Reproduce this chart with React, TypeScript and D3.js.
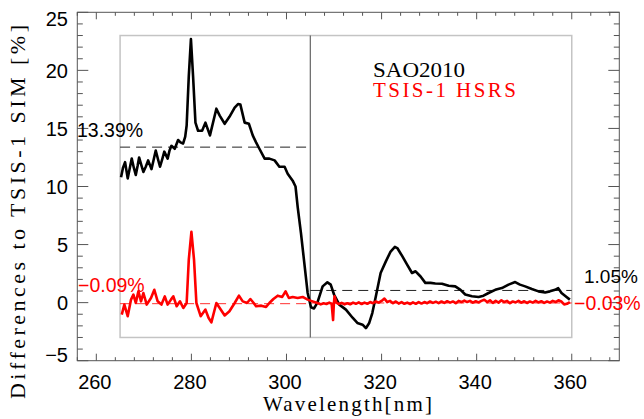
import React from 'react';
import * as d3 from 'd3';

const xMajorTicks = [260, 280, 300, 320, 340, 360];
const yMajorTicks = [-5, 0, 5, 10, 15, 20, 25];

const blackWl = [265.2, 265.6, 266.05, 266.6, 267.0, 267.45, 267.9, 268.3, 268.7, 269.0, 269.5, 269.9, 270.4, 270.9, 271.6, 272.0, 272.5, 273.0, 273.4, 273.9, 274.3, 275.0, 275.4, 275.8, 276.5, 277.2, 277.7, 278.25, 278.7, 279.0, 279.45, 279.9, 280.35, 280.85, 281.4, 282.25, 282.95, 283.9, 285.25, 285.95, 287.0, 288.0, 289.1, 289.8, 290.3, 291.2, 292.1, 292.9, 293.6, 294.3, 295.4, 296.4, 297.5, 298.5, 299.6, 300.25, 301.3, 301.9, 302.35, 303.05, 303.75, 304.45, 305.15, 305.8, 306.5, 307.6, 308.6, 309.3, 310.0, 311.1, 312.5, 313.9, 314.9, 316.0, 316.7, 317.4, 318.05, 318.8, 319.8, 320.9, 321.9, 322.8, 323.3, 324.35, 325.4, 326.4, 327.15, 328.2, 329.2, 330.3, 331.3, 332.7, 334.1, 335.5, 336.6, 337.6, 339.0, 340.4, 341.45, 342.5, 343.9, 345.3, 346.7, 348.1, 349.1, 350.2, 351.6, 353.0, 354.4, 355.4, 356.5, 357.15, 357.85, 358.9, 359.6];
const blackVal = [10.8, 11.6, 12.1, 10.7, 11.5, 12.4, 11.6, 11.0, 11.8, 12.5, 11.8, 11.25, 11.7, 12.25, 11.5, 12.2, 13.1, 12.3, 11.7, 12.4, 13.0, 12.4, 13.1, 13.5, 13.25, 14.0, 13.8, 13.7, 14.3, 15.25, 19.5, 22.7, 19.5, 15.5, 14.8, 14.8, 15.5, 14.4, 16.7, 16.1, 15.4, 16.0, 16.8, 17.1, 17.05, 15.5, 15.4, 14.4, 13.8, 13.25, 12.4, 12.4, 12.25, 11.7, 11.7, 11.1, 10.5, 10.0, 8.25, 5.97, 3.4, 0.83, -0.4, -0.5, 0.0, 1.4, 1.75, 1.55, 0.7, -0.17, -0.6, -1.3, -1.75, -1.9, -2.2, -1.75, -0.9, 0.55, 2.55, 3.55, 4.4, 4.8, 4.7, 4.0, 3.25, 2.55, 2.7, 2.25, 1.7, 1.7, 1.65, 1.63, 1.45, 1.4, 1.1, 0.7, 0.55, 0.49, 0.6, 0.83, 1.1, 1.25, 1.55, 1.77, 1.55, 1.4, 1.17, 0.97, 0.88, 0.97, 1.1, 1.25, 0.83, 0.49, 0.26];

const redWl = [265.35, 265.9, 266.6, 267.3, 267.8, 268.3, 268.85, 269.4, 269.9, 270.6, 271.5, 272.2, 272.9, 273.7, 274.4, 275.0, 275.7, 276.2, 276.9, 277.6, 278.3, 279.0, 279.45, 280.0, 280.55, 281.05, 281.95, 282.95, 283.6, 284.2, 285.25, 285.95, 287.0, 288.0, 289.1, 290.0, 290.8, 291.7, 292.4, 293.1, 293.6, 294.7, 295.7, 296.4, 297.25, 298.15, 299.1, 299.8, 300.5, 301.3, 302.35, 303.4, 304.45, 305.5, 306.5, 307.2, 307.8, 308.4, 309.0, 309.5, 309.8, 309.95, 310.1, 310.5, 311.0, 311.6, 312.2, 312.8, 313.4, 314.0, 314.6, 315.2, 315.8, 316.4, 317.0, 317.6, 318.2, 318.8, 319.4, 320.0, 320.6, 321.2, 321.8, 322.4, 323.0, 323.6, 324.2, 324.8, 325.4, 326.0, 326.6, 327.2, 327.8, 328.4, 329.0, 329.6, 330.2, 330.8, 331.4, 332.0, 332.6, 333.2, 333.8, 334.4, 335.0, 335.6, 336.2, 336.8, 337.4, 338.0, 338.6, 339.2, 339.8, 340.4, 341.0, 341.6, 342.2, 342.8, 343.4, 344.0, 344.6, 345.2, 345.8, 346.4, 347.0, 347.6, 348.2, 348.8, 349.4, 350.0, 350.6, 351.2, 351.8, 352.4, 353.0, 353.6, 354.2, 354.8, 355.4, 356.0, 356.6, 357.2, 357.8, 358.4, 359.0, 359.6];
const redVal = [-1.03, -0.17, -1.17, 0.26, 0.69, -0.03, 0.97, 0.11, 0.83, -0.17, 0.4, 1.11, 0.11, -0.17, 0.54, -0.17, 0.26, 0.54, -0.31, 0.11, -0.46, -0.03, 3.7, 6.1, 3.7, -0.03, -1.17, -0.6, -1.3, -1.7, -0.03, -0.46, -1.1, -0.74, -0.03, 0.6, 0.11, -0.03, 0.31, -0.03, -0.31, -0.26, -0.37, -0.03, 0.31, 0.6, 0.49, 0.97, 0.4, 0.49, 0.4, 0.49, 0.26, 0.11, -0.03, -0.15, -0.05, -0.12, 0.0, -0.1, -1.5, -0.2, 0.55, 0.0, -0.12, -0.02, -0.15, -0.05, -0.14, 0.0, -0.1, 0.02, -0.12, 0.0, -0.1, 0.05, -0.05, 0.1, 0.0, 0.15, 0.35, 0.05, 0.15, -0.05, 0.1, -0.08, 0.05, -0.1, 0.0, -0.12, 0.02, -0.1, 0.05, -0.08, 0.05, -0.05, 0.1, -0.02, 0.08, -0.05, 0.1, -0.02, 0.12, 0.0, 0.1, -0.05, 0.15, 0.05, 0.18, 0.05, 0.15, 0.0, 0.12, 0.02, 0.15, 0.25, 0.05, 0.2, -0.02, 0.15, 0.0, 0.2, 0.05, 0.15, -0.05, 0.1, 0.02, 0.15, 0.0, 0.12, -0.03, 0.1, 0.0, 0.15, 0.02, 0.12, -0.02, 0.1, 0.0, 0.15, 0.05, 0.2, 0.1, -0.15, -0.1, 0.05];

// mean levels: [x0, x1, value]
const blackMeans = [[265, 305, 13.39], [305, 360, 1.05]];
const redMeans = [[265, 305, -0.09], [305, 360, -0.03]];
const meanLabels = ['13.39%', '1.05%', '\u22120.09%', '\u22120.03%'];
const seriesNames = ['SAO2010', 'TSIS-1 HSRS'];
const boxRange = [265, 360, -3, 23];
const splitWl = 305;

export default function App() {
  const W = 644, H = 419;
  const x = d3.scaleLinear().domain([256, 370]).range([77.3, 619.3]);
  const y = d3.scaleLinear().domain([-5, 25]).range([360.7, 12.3]);
  const x0 = 77.3, x1 = 619.3, y0 = 360.7, y1 = 12.3;

  const blackLine = d3.line<number>().x((_, i) => x(blackWl[i])).y(d => y(d))(blackVal) || '';
  const redLine = d3.line<number>().x((_, i) => x(redWl[i])).y(d => y(d))(redVal) || '';

  const xMinor = d3.range(256, 370.1, 4);
  const yMinor = d3.range(-5, 25.1, 1);
  const xMajLen = 7, xMinLen = 3.5, yMajLen = 11, yMinLen = 5.5;
  const sans = '"Liberation Sans", Arial, sans-serif';
  const serif = '"Liberation Serif", "DejaVu Serif", serif';
  const frameColor = '#555';

  return (
    <svg width={W} height={H} style={{ position: 'absolute', left: 0, top: 0, background: '#fff' }}>
      {/* inner gray box */}
      <rect x={x(boxRange[0])} y={y(boxRange[3])} width={x(boxRange[1]) - x(boxRange[0])}
        height={y(boxRange[2]) - y(boxRange[3])} fill="none" stroke="#c4c4c4" strokeWidth={1.5} />
      {/* vertical split line */}
      <line x1={x(splitWl)} x2={x(splitWl)} y1={y(boxRange[3])} y2={y(boxRange[2])} stroke="#444" strokeWidth={1} />

      {/* mean dashed lines */}
      {blackMeans.map((m, i) => (
        <line key={'bm' + i} x1={x(m[0])} x2={x(m[1])} y1={y(m[2])} y2={y(m[2])}
          stroke="#222" strokeWidth={1} strokeDasharray="10,6" />
      ))}
      {redMeans.map((m, i) => (
        <line key={'rm' + i} x1={x(m[0])} x2={x(m[1])} y1={y(m[2])} y2={y(m[2])}
          stroke="#ff3030" strokeWidth={1} strokeDasharray="10,6" />
      ))}

      {/* curves */}
      <path d={blackLine} fill="none" stroke="#000" strokeWidth={2.6} strokeLinejoin="round" />
      <path d={redLine} fill="none" stroke="#ff0000" strokeWidth={2.6} strokeLinejoin="round" />

      {/* frame */}
      <rect x={x0} y={y1} width={x1 - x0} height={y0 - y1} fill="none" stroke={frameColor} strokeWidth={1} />
      {xMinor.map(t => {
        const major = xMajorTicks.includes(t);
        const l = major ? xMajLen : xMinLen;
        return (
          <g key={'xt' + t}>
            <line x1={x(t)} x2={x(t)} y1={y0} y2={y0 - l} stroke={frameColor} strokeWidth={1} />
            <line x1={x(t)} x2={x(t)} y1={y1} y2={y1 + l} stroke={frameColor} strokeWidth={1} />
          </g>
        );
      })}
      {yMinor.map(t => {
        const major = yMajorTicks.includes(t);
        const l = major ? yMajLen : yMinLen;
        return (
          <g key={'yt' + t}>
            <line x1={x0} x2={x0 + l} y1={y(t)} y2={y(t)} stroke={frameColor} strokeWidth={1} />
            <line x1={x1} x2={x1 - l} y1={y(t)} y2={y(t)} stroke={frameColor} strokeWidth={1} />
          </g>
        );
      })}

      {/* tick labels */}
      {xMajorTicks.map(t => (
        <text key={'xl' + t} x={x(t) - 1.5} y={389} textAnchor="middle" fontFamily={sans} fontSize={20} fill="#000">{t}</text>
      ))}
      {yMajorTicks.map(t => (
        <text key={'yl' + t} x={68} y={Math.min(355, Math.max(19, y(t)))} dy="0.36em" textAnchor="end"
          fontFamily={sans} fontSize={20} fill="#000">{t < 0 ? '\u2212' + Math.abs(t) : t}</text>
      ))}

      {/* mean labels */}
      <text x={77} y={y(blackMeans[0][2]) - 10.5} fontFamily={sans} fontSize={19.5} fill="#000">{meanLabels[0]}</text>
      <text x={584} y={y(blackMeans[1][2]) - 7.5} fontFamily={sans} fontSize={19} fill="#000">{meanLabels[1]}</text>
      <text x={78} y={y(redMeans[0][2]) - 12} fontFamily={sans} fontSize={19.5} fill="#ff0000">{meanLabels[2]}</text>
      <text x={574} y={y(redMeans[1][2]) + 7} fontFamily={sans} fontSize={19.5} fill="#ff0000">{meanLabels[3]}</text>

      {/* legend */}
      <text x={373} y={76.7} fontFamily={serif} fontSize={21} fill="#000" textLength={92} lengthAdjust="spacingAndGlyphs">{seriesNames[0]}</text>
      <text x={373} y={97} fontFamily={serif} fontSize={21} fill="#ff0000" textLength={143} lengthAdjust="spacing">{seriesNames[1]}</text>

      {/* axis titles */}
      <text x={347.5} y={411} textAnchor="middle" fontFamily={serif} fontSize={21} fill="#000" textLength={169} lengthAdjust="spacing">Wavelength[nm]</text>
      <text transform="translate(25,212) rotate(-90)" textAnchor="middle" fontFamily={serif} fontSize={22} fill="#000" textLength={374} lengthAdjust="spacing">Differences to TSIS-1 SIM [%]</text>
    </svg>
  );
}
